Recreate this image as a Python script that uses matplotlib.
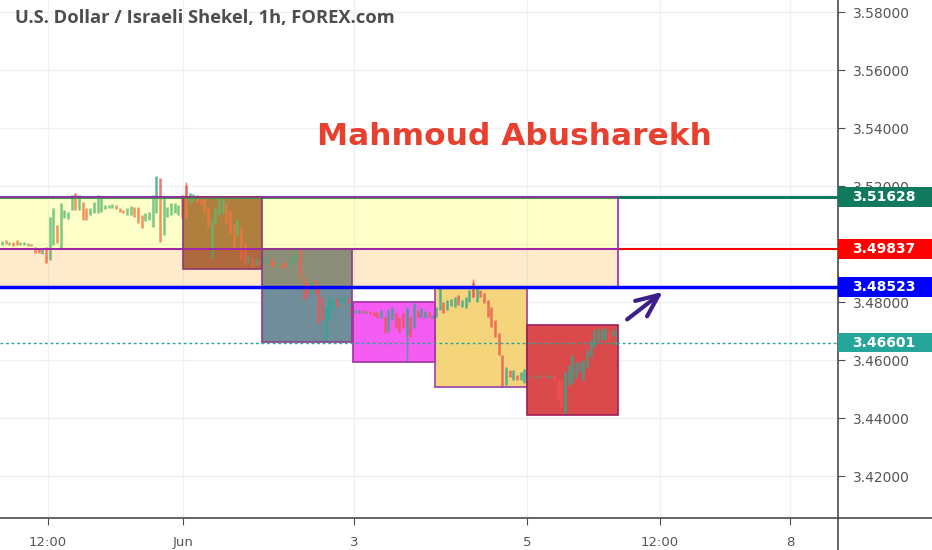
import matplotlib
matplotlib.use('Agg')
import matplotlib.pyplot as plt
import matplotlib.patches as mpatches
import matplotlib.transforms as mtrans
from matplotlib.lines import Line2D

# hourly candles, one per bar (open / close)
opens = [
    # up to Jun
    3.4997, 3.5014, 3.4997, 3.5007,
    3.5014, 3.4997, 3.4998, 3.5003, 3.4993, 3.4990, 3.4986, 3.4965, 3.4990, 3.4945,
    3.4997, 3.5066, 3.4986, 3.5090, 3.5086, 3.5117, 3.5176, 3.5117, 3.5145, 3.5124,
    3.5100, 3.5107, 3.5107, 3.5110, 3.5121, 3.5124, 3.5124, 3.5135, 3.5124, 3.5117,
    3.5100, 3.5100, 3.5128, 3.5128, 3.5100, 3.5079, 3.5083, 3.5059, 3.5107, 3.5228,
    3.5031, 3.5093, 3.5100, 3.5107, 3.5100, 3.5169,
    # brown zone
    3.5203, 3.5141, 3.5148, 3.5169, 3.5165, 3.5159, 3.5128, 3.4952, 3.5073, 3.5100,
    3.5107, 3.5141, 3.5117, 3.5073, 3.5031, 3.5059, 3.5003, 3.4935, 3.4955, 3.4928,
    3.4945,
    # grey zone
    3.4928, 3.4935, 3.4952, 3.4938, 3.4924, 3.4935, 3.4938, 3.4921, 3.4935, 3.4945,
    3.4986, 3.4886, 3.4865, 3.4831, 3.4876, 3.4852, 3.4817, 3.4669, 3.4738, 3.4772,
    3.4814, 3.4800, 3.4797, 3.4814,
    # magenta zone
    3.4783, 3.4762, 3.4762, 3.4772, 3.4762, 3.4769, 3.4765, 3.4765, 3.4745, 3.4748,
    3.4697, 3.4738, 3.4762, 3.4748, 3.4762, 3.4686, 3.4748, 3.4710, 3.4772, 3.4748,
    3.4745, 3.4765, 3.4745,
    # gold zone
    3.4748, 3.4772, 3.4800, 3.4772, 3.4786, 3.4783, 3.4824, 3.4783, 3.4779, 3.4800,
    3.4869, 3.4800, 3.4841, 3.4831, 3.4807, 3.4783, 3.4738, 3.4693, 3.4617, 3.4514,
    3.4566, 3.4531, 3.4548, 3.4531, 3.4521,
    # red zone
    3.4538, 3.4545, 3.4538, 3.4541, 3.4545, 3.4541, 3.4538, 3.4545, 3.4531, 3.4524,
    3.4417, 3.4514, 3.4521, 3.4538, 3.4559, 3.4531, 3.4573, 3.4610, 3.4645, 3.4662,
    3.4669, 3.4669, 3.4703, 3.4683, 3.4652,
]
closes = [
    3.5010, 3.5000, 3.5007, 3.4993,
    3.4997, 3.5007, 3.5006, 3.4993, 3.5000, 3.4969, 3.4969, 3.4986, 3.4935, 3.5093,
    3.5124, 3.5003, 3.5141, 3.5117, 3.5110, 3.5169, 3.5117, 3.5169, 3.5083, 3.5083,
    3.5124, 3.5145, 3.5169, 3.5165, 3.5135, 3.5135, 3.5138, 3.5121, 3.5110, 3.5107,
    3.5124, 3.5131, 3.5093, 3.5073, 3.5055, 3.5107, 3.5110, 3.5169, 3.5235, 3.5007,
    3.5159, 3.5128, 3.5141, 3.5141, 3.5135, 3.5090,
    3.5090, 3.5176, 3.5172, 3.5141, 3.5135, 3.5107, 3.5059, 3.5083, 3.5128, 3.5162,
    3.5159, 3.5073, 3.5038, 3.4979, 3.5083, 3.4945, 3.4928, 3.4962, 3.4921, 3.4952,
    3.4928,
    3.4952, 3.4955, 3.4928, 3.4921, 3.4935, 3.4917, 3.4921, 3.4945, 3.4962, 3.4979,
    3.4886, 3.4807, 3.4817, 3.4869, 3.4831, 3.4728, 3.4738, 3.4783, 3.4817, 3.4807,
    3.4783, 3.4817, 3.4817, 3.4797,
    3.4755, 3.4772, 3.4772, 3.4762, 3.4769, 3.4759, 3.4752, 3.4745, 3.4772, 3.4693,
    3.4772, 3.4783, 3.4710, 3.4697, 3.4710, 3.4779, 3.4679, 3.4797, 3.4745, 3.4779,
    3.4769, 3.4748, 3.4755,
    3.4783, 3.4848, 3.4762, 3.4807, 3.4810, 3.4817, 3.4790, 3.4807, 3.4817, 3.4841,
    3.4817, 3.4848, 3.4817, 3.4797, 3.4748, 3.4714, 3.4679, 3.4617, 3.4507, 3.4576,
    3.4542, 3.4566, 3.4531, 3.4559, 3.4569,
    3.4545, 3.4538, 3.4545, 3.4548, 3.4538, 3.4548, 3.4545, 3.4531, 3.4462, 3.4438,
    3.4559, 3.4583, 3.4617, 3.4593, 3.4593, 3.4600, 3.4634, 3.4669, 3.4703, 3.4710,
    3.4703, 3.4710, 3.4669, 3.4703, 3.46601,
]
# the few long wicks
wick_idx = [50, 110, 128, 153, 167]
wick_lo = [3.5090, 3.4593, 3.4817, 3.4410, 3.4652]
wick_hi = [3.5214, 3.4779, 3.4879, 3.4559, 3.4714]

# drawn zones (bar from, bar to, low, high)
zone_x0 = [49.7, 71.2, 95.9, 118.2, 143.2]
zone_x1 = [71.2, 95.7, 118.2, 143.2, 167.9]
zone_lo = [3.4914, 3.4662, 3.4593, 3.4507, 3.4410]
zone_hi = [3.51628, 3.49837, 3.4800, 3.48523, 3.4721]
zone_col = ['#9a5e4e', '#6f8e99', '#f55cf1', '#f4d57c', '#db4a4a']
zone_edge = ['#8e3a6e', '#8e3a8e', '#a030a0', '#a040a0', '#a01e5a']

levels = [3.51628, 3.49837, 3.48523, 3.46601]
level_col = ['#117a5e', '#ff0000', '#0000ff', '#26a69a']

yticks = [3.42, 3.44, 3.46, 3.48, 3.50, 3.52, 3.54, 3.56, 3.58]
xtick_pos = [13.0, 49.7, 96.2, 143.2, 179.3, 214.7]
xtick_lab = ['12:00', 'Jun', '3', '5', '12:00', '8']

fig = plt.figure(figsize=(9.32, 5.5), dpi=100)
ax = fig.add_axes([0, 32/550, 838/932, 518/550])
ax.set_xlim(0, 227.7)
ax.set_ylim(3.40552, 3.58414)

# zones under the candles
for x0, x1, lo, hi, c in zip(zone_x0, zone_x1, zone_lo, zone_hi, zone_col):
    ax.add_patch(mpatches.Rectangle((x0, lo), x1 - x0, hi - lo, fc=c, ec='none', zorder=1))

xs = [i + 0.5 for i in range(len(opens))]
cols = ['#2fa88f' if c >= o else '#ef5350' for o, c in zip(opens, closes)]
ax.vlines(xs, [min(o, c) for o, c in zip(opens, closes)],
          [max(o, c) for o, c in zip(opens, closes)], colors=cols, lw=1.8, alpha=0.8, zorder=2)
ax.vlines([xs[i] for i in wick_idx], wick_lo, wick_hi, colors=[cols[i] for i in wick_idx],
          lw=1.0, alpha=0.8, zorder=2)

# level lines
ax.axhline(levels[0], color=level_col[0], lw=2.2, zorder=3)
ax.axhline(levels[1], color=level_col[1], lw=1.5, zorder=3)

# wide bands
ax.add_patch(mpatches.Rectangle((0, levels[1]), 167.9, levels[0] - levels[1], fc='#ffff00',
                                alpha=0.21, ec='none', zorder=3.5))
ax.add_patch(mpatches.Rectangle((0, levels[2]), 167.9, levels[1] - levels[2], fc='#ff9800',
                                alpha=0.2, ec='none', zorder=3.5))
ax.add_patch(mpatches.Rectangle((-1, levels[1]), 168.9, levels[0] - levels[1], fc='none',
                                ec='#9c27b0', lw=1.2, zorder=4))
ax.add_patch(mpatches.Rectangle((-1, levels[2]), 168.9, levels[1] - levels[2], fc='none',
                                ec='#9c27b0', lw=1.2, zorder=4))
for x0, x1, lo, hi, e in zip(zone_x0, zone_x1, zone_lo, zone_hi, zone_edge):
    ax.add_patch(mpatches.Rectangle((x0, lo), x1 - x0, hi - lo, fc='none', ec=e, lw=1.2, zorder=4))

ax.axhline(levels[2], color=level_col[2], lw=2.5, zorder=6)
ax.axhline(levels[3], color=level_col[3], lw=1.0, ls=(0, (2, 2)), zorder=6)

ax.annotate('', xy=(180.7, 3.4841), xytext=(169.8, 3.4734),
            arrowprops=dict(arrowstyle='->,head_length=1.6,head_width=0.7', color='#3c1e8c', lw=3))

ax.text(139.7, 3.5369, 'Mahmoud Abusharekh', ha='center', va='center', fontsize=22.5,
        fontweight='bold', color='#e8402f', zorder=7)

# axes styling (3.50000 sits under the red price tag)
ax.set_yticks(yticks)
ax.set_yticklabels(['' if v == 3.50 else '%.5f' % v for v in yticks])
ax.yaxis.tick_right()
ax.set_xticks(xtick_pos)
ax.set_xticklabels(xtick_lab)
ax.tick_params(axis='y', direction='out', length=5, color='#4a4a4a', labelcolor='#555555',
               labelsize=10, pad=6)
ax.tick_params(axis='x', direction='out', length=5, color='#4a4a4a', labelcolor='#555555',
               labelsize=9.5, pad=8)
ax.grid(color='#eef0f4', lw=1)
ax.set_axisbelow(True)
for s in ['left', 'top']:
    ax.spines[s].set_visible(False)
for s in ['right', 'bottom']:
    ax.spines[s].set_color('#4a4a4a')
    ax.spines[s].set_linewidth(1.2)
fig.add_artist(Line2D([838/932, 1], [32/550, 32/550], transform=fig.transFigure,
                      color='#4a4a4a', lw=1.2))
fig.add_artist(Line2D([838/932, 838/932], [0, 32/550], transform=fig.transFigure,
                      color='#4a4a4a', lw=1.2))

# price tags on the scale
tr = mtrans.blended_transform_factory(ax.transAxes, ax.transData)
for lv, c in zip(levels, level_col):
    ax.add_patch(mpatches.Rectangle((1.0, lv - 0.0034), 0.13, 0.0068, transform=tr, fc=c,
                                    ec='none', clip_on=False, zorder=8))
    ax.text(1.0 + 14/838, lv, '%.5f' % lv, transform=tr, ha='left', va='center', fontsize=10,
            fontweight='bold', color='white', zorder=9, clip_on=False)

fig.text(15/932, 1 - 18/550, 'U.S. Dollar / Israeli Shekel, 1h, FOREX.com', fontfamily='Open Sans',
         fontweight='bold', fontsize=13.2, color='#4d4d4d', va='center')

fig.savefig('out.png', dpi=100)
